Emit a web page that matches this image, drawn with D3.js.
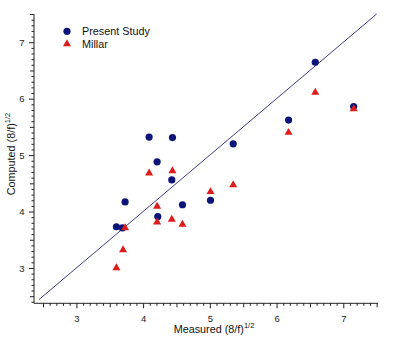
<!DOCTYPE html>
<html><head><meta charset="utf-8">
<script src="https://cdn.jsdelivr.net/npm/d3@7"></script>
<style>
html,body{margin:0;padding:0;background:#fff;}
svg{display:block;font-family:"Liberation Sans",Arial,sans-serif;}
</style></head>
<body>
<svg id="chart" width="406" height="337"></svg>
<script>
// Data
const presentX = [3.60, 3.69, 3.73, 4.09, 4.44, 4.21, 4.43, 4.22, 4.59, 5.01, 5.35, 6.18, 6.58, 7.155];
const presentY = [3.73, 3.71, 4.17, 5.32, 5.31, 4.88, 4.56, 3.91, 4.12, 4.20, 5.20, 5.62, 6.645, 5.86];
const millarX  = [3.60, 3.70, 3.73, 4.09, 4.44, 4.21, 4.21, 4.43, 4.59, 5.01, 5.35, 6.18, 6.58, 7.155];
const millarY  = [3.00, 3.32, 3.71, 4.68, 4.72, 4.09, 3.81, 3.86, 3.77, 4.35, 4.47, 5.40, 6.11, 5.82];
const majorTicks = [3, 4, 5, 6, 7];
const seriesNames = ["Present Study", "Millar"];
const lineRange = [2.44, 7.5];

const svg = d3.select("#chart");
const x = d3.scaleLinear().domain([2.365, 7.52]).range([34, 378]);
const y = d3.scaleLinear().domain([2.374, 7.5]).range([303.3, 14]);

const navy = "#0c1479", red = "#dd1c1c", lineCol = "#3c3c84", axisCol = "#222";
const FONT = "Liberation Sans, Arial, sans-serif";

// minor ticks
const xMinor = d3.range(25, 76).map(d => d / 10);
const yMinor = d3.range(24, 76).map(d => d / 10);
function tlen(v){ const r = Math.round(v*10); if (r % 10 === 0) return 5; if (r % 5 === 0) return 4; return 2.5; }

const xAxis = d3.axisBottom(x).tickValues(xMinor).tickSizeOuter(0)
  .tickFormat(d => majorTicks.includes(Math.round(d*10)/10) ? d3.format("d")(d) : "");
const gx = svg.append("g").attr("transform", `translate(0,${y.range()[0]})`).call(xAxis);
gx.select(".domain").attr("stroke", axisCol).attr("d", `M${x.range()[0]},0H${x.range()[1]}`);
gx.selectAll(".tick line").attr("stroke", axisCol).attr("y2", d => tlen(d));
gx.selectAll(".tick text").attr("y", 18.7).attr("dy", 0).attr("font-size", 9.5).attr("fill", "#222")
  .attr("font-family", FONT);

const yAxis = d3.axisLeft(y).tickValues(yMinor).tickSizeOuter(0)
  .tickFormat(d => majorTicks.includes(Math.round(d*10)/10) ? d3.format("d")(d) : "");
const gy = svg.append("g").attr("transform", `translate(${x.range()[0]},0)`).call(yAxis);
gy.select(".domain").attr("stroke", axisCol).attr("d", `M0,${y.range()[0]}V${y.range()[1]}`);
gy.selectAll(".tick line").attr("stroke", axisCol).attr("x2", d => -tlen(d));
gy.selectAll(".tick text").attr("x", -9.5).attr("font-size", 9.5).attr("fill", "#222")
  .attr("font-family", FONT);

// diagonal 1:1 line
svg.append("line")
  .attr("x1", x(lineRange[0])).attr("y1", y(lineRange[0]))
  .attr("x2", x(lineRange[1])).attr("y2", y(lineRange[1]))
  .attr("stroke", lineCol).attr("stroke-width", 1);

// series
const present = presentX.map((v, i) => [v, presentY[i]]);
const millar = millarX.map((v, i) => [v, millarY[i]]);
const tri = d3.symbol().type(d3.symbolTriangle).size(28);

svg.append("g").selectAll("circle").data(present).join("circle")
  .attr("cx", d => x(d[0])).attr("cy", d => y(d[1])).attr("r", 3.6).attr("fill", navy);
svg.append("g").selectAll("path").data(millar).join("path")
  .attr("d", tri).attr("transform", d => `translate(${x(d[0])},${y(d[1])})`).attr("fill", red);

// legend
const lg = svg.append("g");
lg.append("circle").attr("cx", 67).attr("cy", 31.3).attr("r", 3.6).attr("fill", navy);
lg.append("path").attr("d", tri).attr("transform", "translate(67,44)").attr("fill", red);
lg.append("text").attr("x", 82).attr("y", 35.3).attr("font-size", 10.8).attr("fill", "#111").text(seriesNames[0]);
lg.append("text").attr("x", 82).attr("y", 47.7).attr("font-size", 10.8).attr("fill", "#111").text(seriesNames[1]);

// axis titles
const xt = svg.append("text").attr("x", 214).attr("y", 333).attr("text-anchor", "middle")
  .attr("font-size", 10.8).attr("fill", "#111");
xt.append("tspan").text("Measured (8/f)");
xt.append("tspan").attr("font-size", 7.5).attr("dy", -5).text("1/2");

const yt = svg.append("text").attr("transform", "translate(15,154) rotate(-90)").attr("text-anchor", "middle")
  .attr("font-size", 10.8).attr("fill", "#111");
yt.append("tspan").text("Computed (8/f)");
yt.append("tspan").attr("font-size", 7.5).attr("dy", -5).text("1/2");
</script>
</body></html>
